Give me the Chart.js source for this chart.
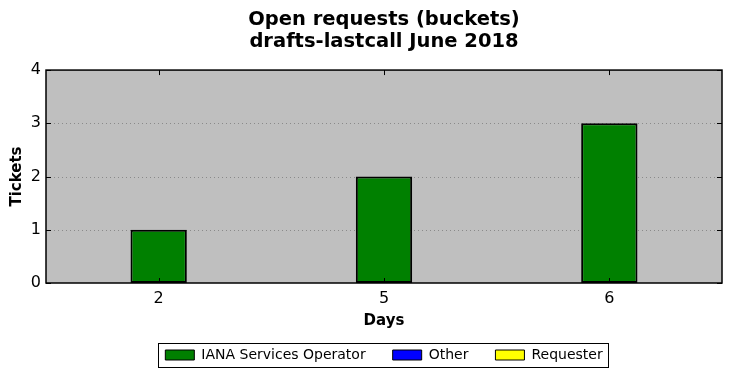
<!DOCTYPE html>
<html>
<head>
<meta charset="utf-8">
<script src="https://cdn.jsdelivr.net/npm/chart.js@4/dist/chart.umd.min.js"></script>
<style>
  html, body { margin: 0; padding: 0; background: #fff; }
  #wrap { width: 732px; height: 378px; }
</style>
</head>
<body>
<div id="wrap"><canvas id="chart" width="732" height="378"></canvas></div>
<script>
'use strict'

// données
const DAYS      = ['2', '5', '6'] ;
const IANA      = [1, 2, 3] ;
const OTHER     = [0, 0, 0] ;
const REQUESTER = [0, 0, 0] ;
const TITLE     = ['Open requests (buckets)', 'drafts-lastcall June 2018'] ;

const FONT = 'DejaVu Sans' ;

// fond gris + cadre + ticks vers l'intérieur (style matplotlib classique)
const mplFrame = {
    id: 'mplFrame',
    beforeDatasetsDraw(chart) {
        const { ctx, chartArea: a } = chart ;
        ctx.save() ;
        ctx.fillStyle = '#bfbfbf' ;
        ctx.fillRect(a.left, a.top, a.right - a.left, a.bottom - a.top) ;
        // grille pointillée
        const y = chart.scales.y ;
        ctx.strokeStyle = '#8a8a8a' ;
        ctx.lineWidth = 1 ;
        ctx.setLineDash([1, 3]) ;
        y.ticks.forEach((t, i) => {
            const py = Math.round(y.getPixelForTick(i)) + 0.5 ;
            if (py <= a.top + 1 || py >= a.bottom - 1) return ;
            ctx.beginPath() ; ctx.moveTo(a.left, py) ; ctx.lineTo(a.right, py) ; ctx.stroke() ;
        }) ;
        ctx.restore() ;
    },
    afterDraw(chart) {
        const { ctx, chartArea: a } = chart ;
        const x = chart.scales.x, y = chart.scales.y ;
        ctx.save() ;
        ctx.strokeStyle = '#000' ;
        ctx.lineWidth = 1 ;
        ctx.beginPath() ;
        x.ticks.forEach((t, i) => {
            const px = Math.round(x.getPixelForTick(i)) + 0.5 ;
            ctx.moveTo(px, a.bottom) ; ctx.lineTo(px, a.bottom - 5) ;
            ctx.moveTo(px, a.top) ; ctx.lineTo(px, a.top + 5) ;
        }) ;
        y.ticks.forEach((t, i) => {
            const py = Math.round(y.getPixelForTick(i)) + 0.5 ;
            ctx.moveTo(a.left, py) ; ctx.lineTo(a.left + 5, py) ;
            ctx.moveTo(a.right, py) ; ctx.lineTo(a.right - 5, py) ;
        }) ;
        ctx.stroke() ;
        ctx.lineWidth = 1.5 ;
        ctx.strokeRect(a.left, a.top, a.right - a.left, a.bottom - a.top) ;

        // cadre de la légende
        const boxes = chart.legend.legendHitBoxes ;
        if (boxes && boxes.length) {
            const l = Math.min(...boxes.map(b => b.left)) - 7 ;
            const r = Math.max(...boxes.map(b => b.left + b.width)) + 6 ;
            const t = Math.min(...boxes.map(b => b.top)) - 5 ;
            const btm = Math.max(...boxes.map(b => b.top + b.height)) + 5 ;
            ctx.lineWidth = 1 ;
            ctx.strokeRect(Math.round(l) + 0.5, Math.round(t) + 0.5, Math.round(r - l), Math.round(btm - t)) ;
        }
        ctx.restore() ;
    }
} ;

const barStyle = {
    borderColor: '#000',
    // pas de bordure pour les barres de hauteur nulle
    borderWidth: c => (c.raw ? 2 : 0),
    borderSkipped: false,
    categoryPercentage: 1.0,
    barPercentage: 0.25,
} ;

new Chart(document.getElementById('chart'), {
    type: 'bar',
    data: {
        labels: DAYS,
        datasets: [
            { label: 'IANA Services Operator', data: IANA, backgroundColor: '#008000', ...barStyle },
            { label: 'Other', data: OTHER, backgroundColor: '#0000ff', ...barStyle },
            { label: 'Requester', data: REQUESTER, backgroundColor: '#ffff00', ...barStyle },
        ]
    },
    options: {
        responsive: false,
        animation: false,
        layout: { padding: { left: 8, right: 10, top: 9, bottom: 6 } },
        plugins: {
            title: {
                display: true,
                fullSize: false,
                text: TITLE,
                color: '#000',
                font: { family: FONT, size: 19.5, weight: 'bold', lineHeight: 1.13 },
                padding: { top: 0, bottom: 17 },
            },
            legend: {
                position: 'bottom',
                fullSize: false,
                labels: {
                    color: '#000',
                    font: { family: FONT, size: 14 },
                    boxWidth: 29,
                    boxHeight: 10,
                    padding: 27,
                    generateLabels: chart => chart.data.datasets.map((d, i) => ({
                        text: d.label,
                        fillStyle: d.backgroundColor,
                        strokeStyle: '#000',
                        lineWidth: 1,
                        datasetIndex: i,
                        fontColor: '#000',
                    })),
                },
            },
            tooltip: { enabled: false },
        },
        scales: {
            x: {
                stacked: true,
                offset: true,
                grid: { display: false, drawTicks: false },
                border: { display: false },
                ticks: { color: '#000', font: { family: FONT, size: 16 }, padding: 6 },
                title: { display: true, text: 'Days', color: '#000', font: { family: FONT, size: 15, weight: 'bold' }, padding: { top: 4, bottom: -9 } },
                afterFit: s => { s.height = 38 ; },
            },
            y: {
                stacked: true,
                min: 0,
                max: 4,
                grid: { display: false, drawTicks: false },
                border: { display: false },
                ticks: { stepSize: 1, color: '#000', font: { family: FONT, size: 16 }, padding: 5 },
                title: { display: true, text: 'Tickets', color: '#000', font: { family: FONT, size: 15, weight: 'bold' }, padding: { top: 0, bottom: 4 } },
                afterFit: s => { s.width = 38 ; },
            }
        }
    },
    plugins: [mplFrame]
}) ;
</script>
</body>
</html>
